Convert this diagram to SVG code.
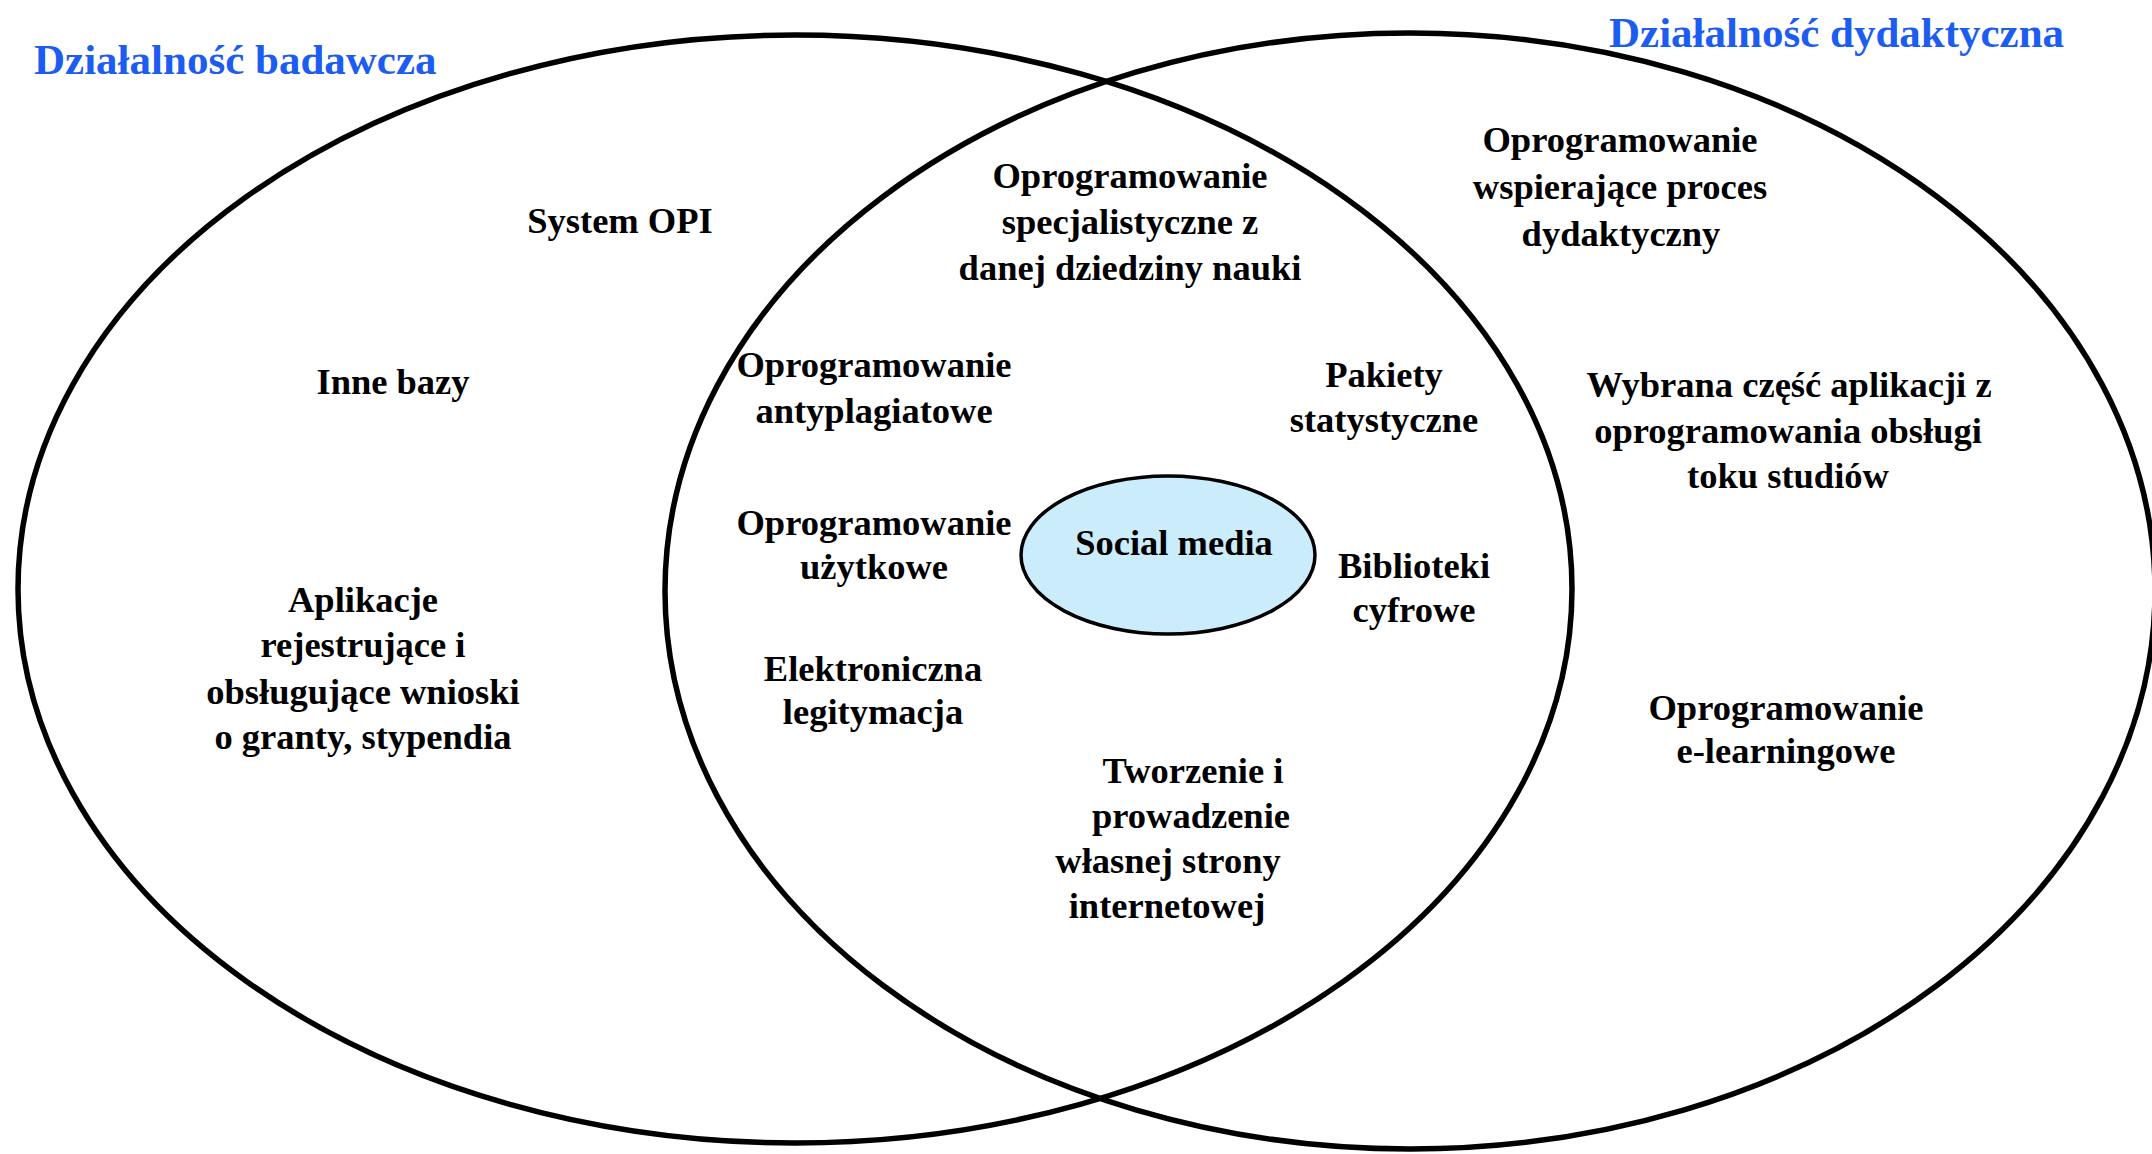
<svg xmlns="http://www.w3.org/2000/svg" width="2152" height="1154" viewBox="0 0 2152 1154">
<style>
.t{font-family:"Liberation Serif","Times New Roman",serif;font-weight:bold;font-size:36.5px;fill:#000;text-anchor:middle}
.h{font-family:"Liberation Serif","Times New Roman",serif;font-weight:bold;font-size:43px;fill:#1d5cf0}
.big{fill:none;stroke:#000;stroke-width:5.5}
</style>
<rect width="2152" height="1154" fill="#fff"/>
<g id="set-badawcza">
<ellipse class="big" cx="795" cy="589" rx="777" ry="554"/>
<text class="h" x="34" y="74">Działalność badawcza</text>
</g>
<g id="set-dydaktyczna">
<ellipse class="big" cx="1410" cy="591" rx="745" ry="558"/>
<text class="h" x="1609" y="47">Działalność dydaktyczna</text>
</g>
<g id="social-media">
<ellipse cx="1168" cy="555" rx="147" ry="79" fill="#cbedfb" stroke="#000" stroke-width="3.5"/>
<text class="t" x="1174" y="555">Social media</text>
</g>
<g id="system-opi"><text class="t" x="620" y="233">System OPI</text></g>
<g id="inne-bazy"><text class="t" x="393" y="394">Inne bazy</text></g>
<g id="aplikacje">
<text class="t" x="363" y="612">Aplikacje</text>
<text class="t" x="363" y="657">rejestrujące i</text>
<text class="t" x="363" y="704">obsługujące wnioski</text>
<text class="t" x="363" y="749">o granty, stypendia</text>
</g>
<g id="specjalistyczne">
<text class="t" x="1130" y="188">Oprogramowanie</text>
<text class="t" x="1130" y="234">specjalistyczne z</text>
<text class="t" x="1130" y="280">danej dziedziny nauki</text>
</g>
<g id="antyplagiatowe">
<text class="t" x="874" y="377">Oprogramowanie</text>
<text class="t" x="874" y="423">antyplagiatowe</text>
</g>
<g id="pakiety">
<text class="t" x="1384" y="387">Pakiety</text>
<text class="t" x="1384" y="432">statystyczne</text>
</g>
<g id="uzytkowe">
<text class="t" x="874" y="535">Oprogramowanie</text>
<text class="t" x="874" y="579">użytkowe</text>
</g>
<g id="biblioteki">
<text class="t" x="1414" y="578">Biblioteki</text>
<text class="t" x="1414" y="622">cyfrowe</text>
</g>
<g id="legitymacja">
<text class="t" x="873" y="681">Elektroniczna</text>
<text class="t" x="873" y="724">legitymacja</text>
</g>
<g id="strona">
<text class="t" x="1193" y="783">Tworzenie i</text>
<text class="t" x="1191" y="828">prowadzenie</text>
<text class="t" x="1168" y="873">własnej strony</text>
<text class="t" x="1167" y="918">internetowej</text>
</g>
<g id="wspierajace">
<text class="t" x="1620" y="152">Oprogramowanie</text>
<text class="t" x="1620" y="199">wspierające proces</text>
<text class="t" x="1621" y="246">dydaktyczny</text>
</g>
<g id="toku-studiow">
<text class="t" x="1789" y="397">Wybrana część aplikacji z</text>
<text class="t" x="1788" y="443">oprogramowania obsługi</text>
<text class="t" x="1788" y="488">toku studiów</text>
</g>
<g id="e-learning">
<text class="t" x="1786" y="720">Oprogramowanie</text>
<text class="t" x="1786" y="763">e-learningowe</text>
</g>
<g id="connectors"></g>
</svg>
